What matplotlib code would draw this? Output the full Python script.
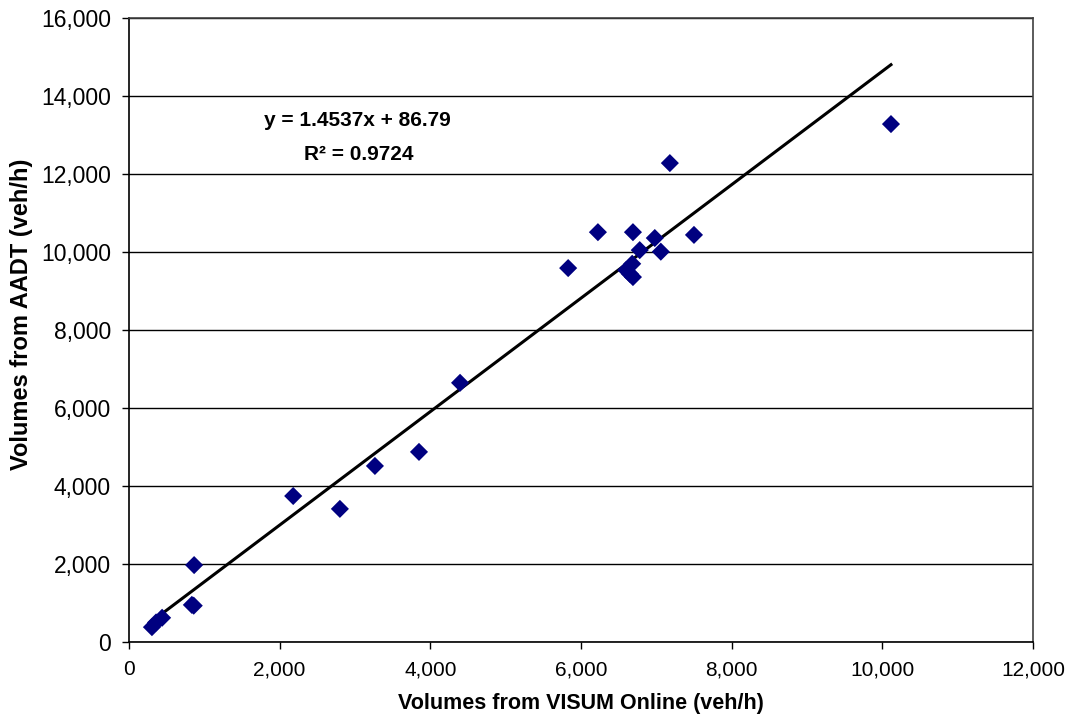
import matplotlib.pyplot as plt
import numpy as np
from matplotlib.ticker import FuncFormatter

plt.rcParams['font.family'] = ['Liberation Sans', 'DejaVu Sans']

# volumes (veh/h)
visum = [305, 360, 440, 835, 860, 865, 2180, 2800, 3265, 3850, 4395,
         5830, 6225, 6600, 6650, 6680, 6690, 6690, 6780, 6980, 7060,
         7180, 7500, 10115]
aadt = [380, 500, 620, 950, 930, 1970, 3740, 3410, 4510, 4870, 6640,
        9580, 10500, 9530, 9430, 9690, 9350, 10500, 10040, 10350, 10000,
        12270, 10430, 13270]

slope = 1.4537
intercept = 86.79
r2 = 0.9724

x_ticks = np.arange(0, 12001, 2000)
y_ticks = np.arange(0, 16001, 2000)

fig = plt.figure(figsize=(10.71, 7.24), dpi=100)
ax = fig.add_axes([0.1204, 0.1133, 0.8441, 0.8625])

# horizontal grid only, Excel style
ax.set_axisbelow(True)
ax.yaxis.grid(True, color='black', lw=1.0)

# trendline over the data range
xl = np.array([min(visum), max(visum)])
ax.plot(xl, slope * xl + intercept, color='black', lw=2.2, zorder=2)

ax.scatter(visum, aadt, marker='D', s=85, color='#000080', edgecolors='none', zorder=3)

ax.set_xlim(0, 12000)
ax.set_ylim(0, 16000)
ax.set_xticks(x_ticks)
ax.set_yticks(y_ticks)
fmt = FuncFormatter(lambda v, p: f'{int(v):,}')
ax.xaxis.set_major_formatter(fmt)
ax.yaxis.set_major_formatter(fmt)
ax.tick_params(direction='out', length=5, width=1, pad=8)
ax.tick_params(axis='x', labelsize=15)
ax.tick_params(axis='y', labelsize=16.5)

for side in ['left', 'bottom']:
    ax.spines[side].set_color('black')
    ax.spines[side].set_linewidth(1.2)
for side in ['right', 'top']:
    ax.spines[side].set_color('#404040')
    ax.spines[side].set_linewidth(1.2)

ax.set_xlabel('Volumes from VISUM Online (veh/h)', fontsize=15.5, fontweight='bold', labelpad=10)
ax.set_ylabel('Volumes from AADT (veh/h)', fontsize=17, fontweight='bold')
ax.yaxis.set_label_coords(-0.106, 0.524)

ax.text(3027, 13349, f'y = {slope}x + {intercept}', ha='center', va='center',
        fontsize=15, fontweight='bold')
ax.text(3050, 12478, f'R² = {r2}', ha='center', va='center',
        fontsize=15, fontweight='bold')

fig.savefig('out.png', dpi=100)
